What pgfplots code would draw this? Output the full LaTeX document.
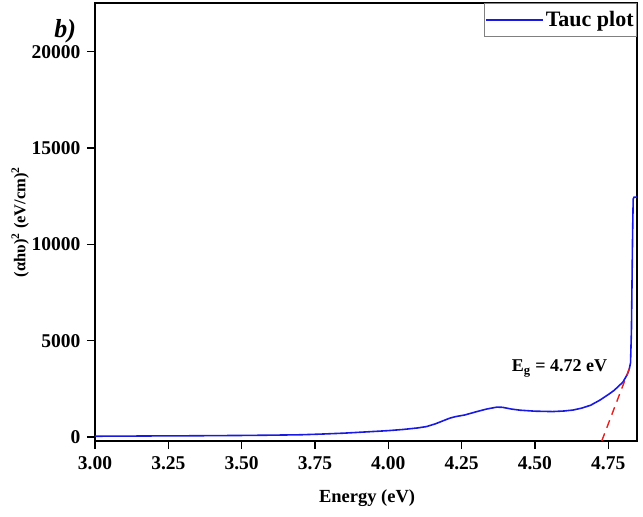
\documentclass[border=0pt]{standalone}
\usepackage{fontspec}
\setmainfont{Liberation Serif}
\usepackage{pgfplots}
\pgfplotsset{compat=1.18}
\definecolor{tauc}{RGB}{25,25,225}
\definecolor{fitred}{RGB}{230,30,30}
\begin{document}
\begin{tikzpicture}
\useasboundingbox (-95pt,-76pt) rectangle (548pt,441pt);
\begin{axis}[
  at={(0,0)}, anchor=south west,
  scale only axis,
  width=542pt, height=438pt,
  xmin=3, xmax=4.848,
  ymin=-208, ymax=22530,
  axis line style={line width=1.6pt},
  xtick={3,3.25,3.5,3.75,4,4.25,4.5,4.75},
  ytick={0,5000,10000,15000,20000},
  scaled y ticks=false, scaled x ticks=false,
  xtick pos=bottom, ytick pos=left,
  tick align=outside,
  major tick length=8pt,
  tick style={line width=1.4pt, black},
  minor tick num=0,
  /pgf/number format/assume math mode=true,
  x tick label style={/pgf/number format/fixed, /pgf/number format/fixed zerofill, /pgf/number format/precision=2, yshift=-4pt},
  y tick label style={/pgf/number format/1000 sep={}, xshift=-3pt},
  tick label style={font=\bfseries\fontsize{19.5}{22}\selectfont},
  xlabel={Energy (eV)},
  ylabel={(αhυ)\textsuperscript{2} (eV/cm)\textsuperscript{2}},
  xlabel style={font=\bfseries\fontsize{18.5}{22}\selectfont, at={(axis description cs:0.502,-0.130)}, anchor=center},
  ylabel style={font=\bfseries\fontsize{16.5}{20}\selectfont, at={(axis description cs:-0.138,0.5)}, anchor=center},
  clip=false,
  legend style={at={(1,1)}, anchor=north east, draw=gray, line width=0.8pt,
    font=\bfseries\fontsize{22}{24}\selectfont, inner xsep=1pt, inner ysep=6pt, row sep=0pt,
    cells={anchor=west}},
  legend image code/.code={\path (-4pt,0pt) -- (53pt,0pt); \draw[line width=1.8pt, color=tauc] (0pt,0pt) -- (48pt,0pt);},
]
\addplot[tauc, line width=1.6pt] coordinates {
(3.00,40) (3.10,45) (3.20,55) (3.30,60) (3.40,70) (3.50,80) (3.60,95) (3.70,115)
(3.77,150) (3.85,200) (3.92,260) (4.00,330) (4.05,390) (4.10,470) (4.13,540)
(4.16,680) (4.19,860) (4.21,980) (4.23,1060) (4.26,1140) (4.30,1310) (4.335,1450)
(4.37,1550) (4.39,1540) (4.42,1450) (4.45,1390) (4.50,1340) (4.56,1320) (4.60,1350)
(4.63,1400) (4.66,1500) (4.69,1650) (4.72,1900) (4.75,2200) (4.77,2420) (4.80,2850)
(4.815,3250) (4.822,3550) (4.826,3850) (4.829,5500) (4.831,8000) (4.833,10500)
(4.835,12350) (4.838,12450) (4.848,12450)
};
\addlegendentry{Tauc plot}
\addplot[fitred, line width=1.4pt, dash pattern=on 8pt off 6pt, forget plot] coordinates {(4.728,-200) (4.822,3550)};
\node[anchor=base west, inner sep=0pt, font=\bfseries\fontsize{18}{20}\selectfont] at (axis cs:4.421,3390) {E\textsubscript{g} = 4.72 eV};
\node[anchor=center, inner sep=0pt, font=\bfseries\itshape\fontsize{26}{28}\selectfont] at (axis description cs:-0.055,0.936) {b)};
\end{axis}
\end{tikzpicture}
\end{document}
